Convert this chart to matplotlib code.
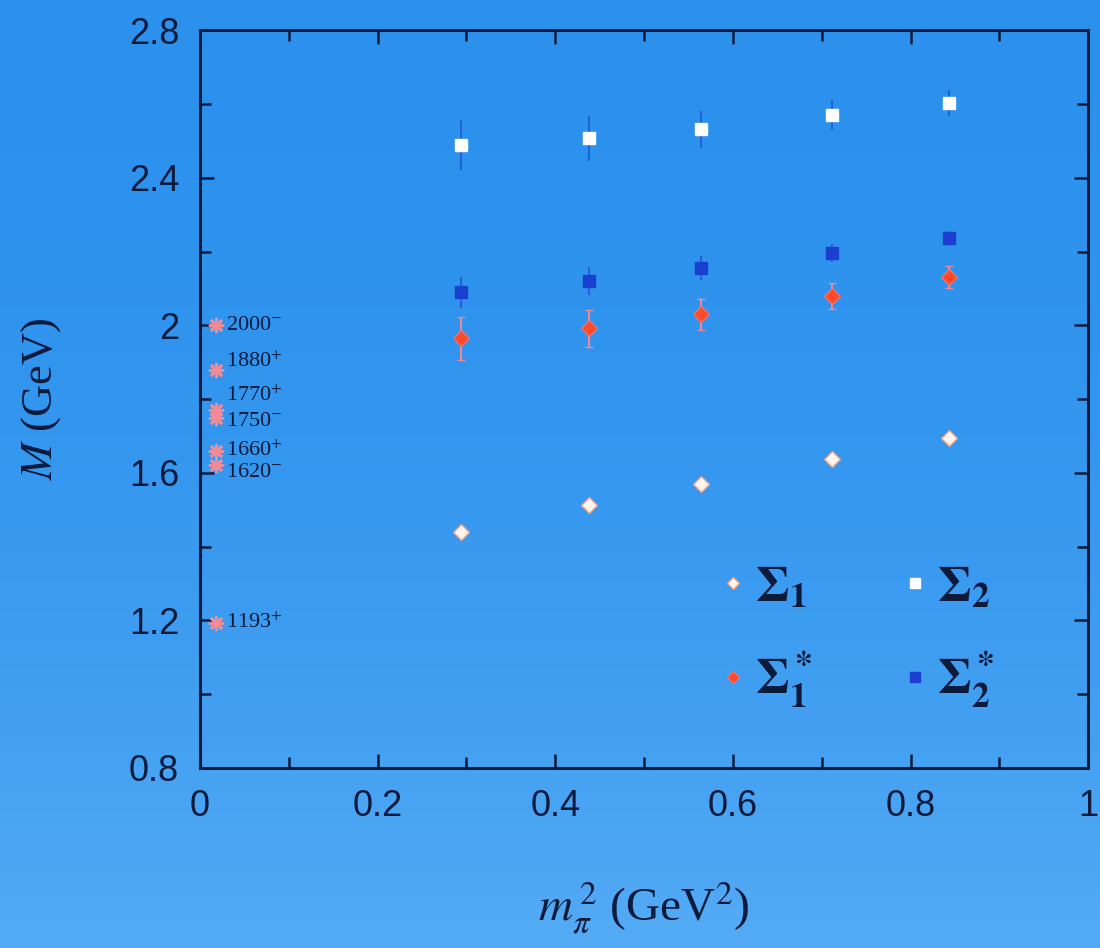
import numpy as np
import matplotlib
matplotlib.use("Agg")
import matplotlib.pyplot as plt
from matplotlib.ticker import MultipleLocator

# lattice results: pion mass squared (GeV^2) and masses (GeV)
mpi2 = [0.294, 0.438, 0.564, 0.712, 0.843]

sigma1 = [1.440, 1.513, 1.570, 1.637, 1.694]
sigma1_err = [0.015, 0.015, 0.015, 0.012, 0.012]
sigma2 = [2.488, 2.507, 2.532, 2.570, 2.602]
sigma2_err = [0.068, 0.060, 0.050, 0.040, 0.035]
sigma1s = [1.965, 1.992, 2.030, 2.079, 2.131]
sigma1s_err = [0.058, 0.050, 0.042, 0.035, 0.030]
sigma2s = [2.090, 2.120, 2.155, 2.196, 2.236]
sigma2s_err = [0.042, 0.038, 0.032, 0.025, 0.020]

# experimental Sigma states
exp_mass = [2.000, 1.880, 1.770, 1.750, 1.660, 1.620, 1.193]
exp_label = ["2000$^{-}$", "1880$^{+}$", "1770$^{+}$", "1750$^{-}$",
             "1660$^{+}$", "1620$^{-}$", "1193$^{+}$"]
exp_label_y = [2.000, 1.900, 1.810, 1.740, 1.660, 1.600, 1.193]
exp_x = 0.018

navy = "#0c1a3c"
plt.rcParams["mathtext.fontset"] = "stix"

fig = plt.figure(figsize=(11, 9.48), dpi=100)

# blue gradient background
bg = fig.add_axes([0, 0, 1, 1])
bg.axis("off")
grad = np.linspace(0, 1, 256).reshape(-1, 1)
top = np.array([0.17, 0.57, 0.93])
bot = np.array([0.33, 0.67, 0.96])
img = top + (bot - top) * grad[:, :, None] ** 2
bg.imshow(img, aspect="auto", extent=[0, 1, 0, 1], origin="upper")

ax = fig.add_axes([0.1818, 0.190, 0.8075, 0.778])
ax.set_facecolor("none")

ax.errorbar(mpi2, sigma2, yerr=sigma2_err, fmt="s", ms=9, mfc="white",
            mec="white", ecolor="#1f63d6", elinewidth=1.5, capsize=0,
            label=r"$\mathbf{\Sigma_2}$")
ax.errorbar(mpi2, sigma2s, yerr=sigma2s_err, fmt="s", ms=9, mfc="#1b3fcf",
            mec="#1b3fcf", ecolor="#2a5fd8", elinewidth=1.5, capsize=0,
            label=r"$\mathbf{\Sigma_2^*}$")
ax.errorbar(mpi2, sigma1s, yerr=sigma1s_err, fmt="D", ms=8, mfc="#ff4a2a",
            mec="#f07070", ecolor="#e88a9a", elinewidth=1.5, capsize=3,
            label=r"$\mathbf{\Sigma_1^*}$")
ax.errorbar(mpi2, sigma1, yerr=sigma1_err, fmt="D", ms=8, mfc="#fff4ee",
            mec="#f0a080", ecolor="#f0b0a0", elinewidth=1.2, capsize=0,
            label=r"$\mathbf{\Sigma_1}$")

ax.plot([exp_x] * len(exp_mass), exp_mass, ls="none", marker=(8, 2, 0),
        ms=11, mew=2.0, color="#f08a96")
for ly, lab in zip(exp_label_y, exp_label):
    ax.text(exp_x + 0.011, ly, lab, fontsize=16, color=navy,
            family="Liberation Serif", va="center", ha="left")

ax.set_xlim(0, 1)
ax.set_ylim(0.8, 2.8)
ax.xaxis.set_minor_locator(MultipleLocator(0.1))
ax.yaxis.set_minor_locator(MultipleLocator(0.2))
ax.set_xticks([0, 0.2, 0.4, 0.6, 0.8, 1.0])
ax.set_xticklabels(["0", "0.2", "0.4", "0.6", "0.8", "1"])
ax.set_yticks([0.8, 1.2, 1.6, 2.0, 2.4, 2.8])
ax.set_yticklabels(["0.8", "1.2", "1.6", "2", "2.4", "2.8"])
ax.tick_params(which="both", direction="in", top=True, right=True,
               color=navy, width=1.8)
ax.tick_params(which="major", length=10, labelsize=26, labelcolor=navy,
               pad=15)
ax.tick_params(which="minor", length=8)
for lab in ax.get_xticklabels() + ax.get_yticklabels():
    lab.set_family("Liberation Sans")
for sp in ax.spines.values():
    sp.set_color(navy)
    sp.set_linewidth(2.2)

ax.set_xlabel(r"$m_{\pi}^{\,2}$ (GeV$^2$)", fontsize=34, color=navy,
              family="Liberation Serif", labelpad=40)
ax.set_ylabel(r"$M$ (GeV)", fontsize=32, color=navy,
              family="Liberation Serif", labelpad=47)

handles, labels = ax.get_legend_handles_labels()
order = [3, 2, 0, 1]
leg = ax.legend([handles[i][0] for i in order], [labels[i] for i in order],
                ncol=2, loc="lower right", bbox_to_anchor=(0.945, 0.017),
                frameon=False, fontsize=36, markerscale=0.75,
                handlelength=0.4, handletextpad=0.25, columnspacing=1.85,
                labelspacing=0.78)
for t in leg.get_texts():
    t.set_color(navy)

fig.savefig("out.png", dpi=100)
